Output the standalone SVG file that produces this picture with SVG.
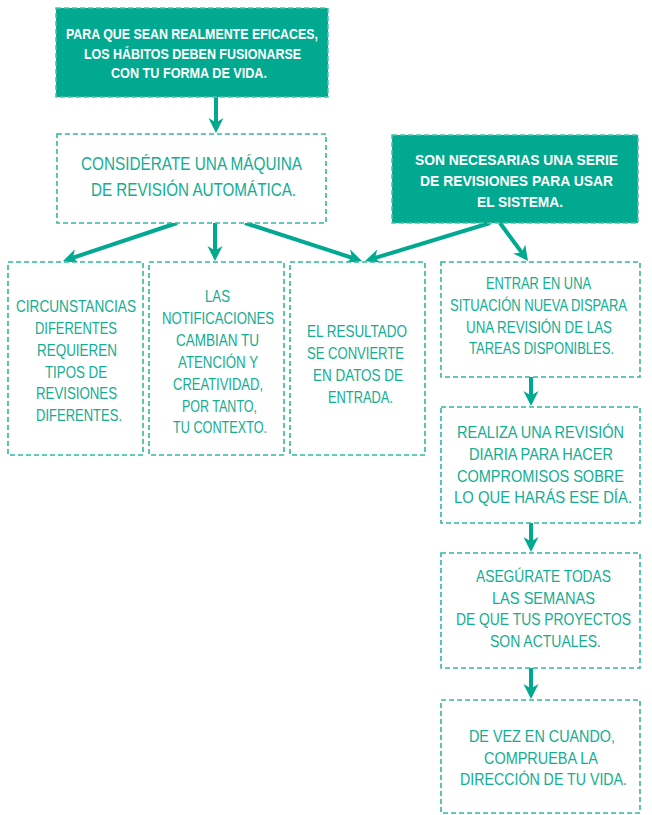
<svg xmlns="http://www.w3.org/2000/svg" width="652" height="815" viewBox="0 0 652 815">
<defs>
<style>
.fill{fill:#00a98f;stroke:#4cc4aa;stroke-width:1.5;stroke-dasharray:5 3}
.out{fill:#ffffff;stroke:#2fb99d;stroke-width:1.6;stroke-dasharray:5 3}
.wt{font-family:"Liberation Sans",Arial,sans-serif;font-weight:bold;fill:#ffffff;text-anchor:middle}
.tt{font-family:"Liberation Sans",Arial,sans-serif;fill:#12ad93;text-anchor:middle;font-size:17px}
.arr{stroke:#00a98f;stroke-width:4;fill:none;marker-end:url(#ah)}
</style>
<marker id="ah" markerUnits="userSpaceOnUse" viewBox="-16 -9 17 18" refX="-8" refY="0" markerWidth="17" markerHeight="18" orient="auto">
<path d="M0,0 L-15,-7.5 L-10.5,0 L-15,7.5 Z" fill="#00a98f"/>
</marker>
</defs>
<rect width="652" height="815" fill="#ffffff"/>
<g id="connectors">
<line class="arr" x1="216" y1="97" x2="216" y2="125"/>
<line class="arr" x1="177" y1="223" x2="70.6" y2="258.5"/>
<line class="arr" x1="215" y1="223" x2="215" y2="253"/>
<line class="arr" x1="245" y1="223" x2="354.4" y2="258.5"/>
<line class="arr" x1="490" y1="223" x2="372.7" y2="258.7"/>
<line class="arr" x1="500" y1="223" x2="523.3" y2="254.6"/>
<line class="arr" x1="531" y1="377" x2="531" y2="398"/>
<line class="arr" x1="531" y1="523" x2="531" y2="544"/>
<line class="arr" x1="531" y1="668" x2="531" y2="691"/>
</g>
<g id="n1">
<rect class="fill" x="56" y="8" width="272" height="89"/>
<text class="wt" font-size="14"><tspan x="192" y="39" textLength="252" lengthAdjust="spacingAndGlyphs">PARA QUE SEAN REALMENTE EFICACES,</tspan></text>
<text class="wt" font-size="14"><tspan x="192.5" y="58.5" textLength="217" lengthAdjust="spacingAndGlyphs">LOS HÁBITOS DEBEN FUSIONARSE</tspan></text>
<text class="wt" font-size="14"><tspan x="189" y="77.5" textLength="156" lengthAdjust="spacingAndGlyphs">CON TU FORMA DE VIDA.</tspan></text>
</g>
<g id="n2">
<rect class="out" x="57" y="134" width="269" height="89"/>
<text class="tt" font-size="18" style="font-size:18px"><tspan x="191.5" y="170" textLength="221" lengthAdjust="spacingAndGlyphs">CONSIDÉRATE UNA MÁQUINA</tspan></text>
<text class="tt" style="font-size:18px"><tspan x="193.5" y="196" textLength="205" lengthAdjust="spacingAndGlyphs">DE REVISIÓN AUTOMÁTICA.</tspan></text>
</g>
<g id="n3">
<rect class="fill" x="392" y="135" width="246" height="88"/>
<text class="wt" font-size="15"><tspan x="516.5" y="165" textLength="203" lengthAdjust="spacingAndGlyphs">SON NECESARIAS UNA SERIE</tspan></text>
<text class="wt" font-size="15"><tspan x="516.5" y="186" textLength="193" lengthAdjust="spacingAndGlyphs">DE REVISIONES PARA USAR</tspan></text>
<text class="wt" font-size="15"><tspan x="520" y="207" textLength="86" lengthAdjust="spacingAndGlyphs">EL SISTEMA.</tspan></text>
</g>
<g id="n4">
<rect class="out" x="8" y="262" width="135" height="193"/>
<text class="tt"><tspan x="76" y="312" textLength="120" lengthAdjust="spacingAndGlyphs">CIRCUNSTANCIAS</tspan></text>
<text class="tt"><tspan x="76" y="333.5" textLength="82" lengthAdjust="spacingAndGlyphs">DIFERENTES</tspan></text>
<text class="tt"><tspan x="77" y="355.5" textLength="80" lengthAdjust="spacingAndGlyphs">REQUIEREN</tspan></text>
<text class="tt"><tspan x="76" y="377.5" textLength="62" lengthAdjust="spacingAndGlyphs">TIPOS DE</tspan></text>
<text class="tt"><tspan x="76.5" y="399" textLength="81" lengthAdjust="spacingAndGlyphs">REVISIONES</tspan></text>
<text class="tt"><tspan x="79" y="420.5" textLength="86" lengthAdjust="spacingAndGlyphs">DIFERENTES.</tspan></text>
</g>
<g id="n5">
<rect class="out" x="149" y="262" width="135" height="193"/>
<text class="tt"><tspan x="217.5" y="302" textLength="25" lengthAdjust="spacingAndGlyphs">LAS</tspan></text>
<text class="tt"><tspan x="218" y="324" textLength="112" lengthAdjust="spacingAndGlyphs">NOTIFICACIONES</tspan></text>
<text class="tt"><tspan x="217.5" y="346" textLength="83" lengthAdjust="spacingAndGlyphs">CAMBIAN TU</tspan></text>
<text class="tt"><tspan x="218" y="368" textLength="80" lengthAdjust="spacingAndGlyphs">ATENCIÓN Y</tspan></text>
<text class="tt"><tspan x="218" y="389.5" textLength="90" lengthAdjust="spacingAndGlyphs">CREATIVIDAD,</tspan></text>
<text class="tt"><tspan x="219.5" y="411.5" textLength="75" lengthAdjust="spacingAndGlyphs">POR TANTO,</tspan></text>
<text class="tt"><tspan x="220" y="433" textLength="94" lengthAdjust="spacingAndGlyphs">TU CONTEXTO.</tspan></text>
</g>
<g id="n6">
<rect class="out" x="290" y="262" width="135" height="193"/>
<text class="tt"><tspan x="357" y="337" textLength="100" lengthAdjust="spacingAndGlyphs">EL RESULTADO</tspan></text>
<text class="tt"><tspan x="355.5" y="359" textLength="97" lengthAdjust="spacingAndGlyphs">SE CONVIERTE</tspan></text>
<text class="tt"><tspan x="358" y="381" textLength="90" lengthAdjust="spacingAndGlyphs">EN DATOS DE</tspan></text>
<text class="tt"><tspan x="360.5" y="403" textLength="65" lengthAdjust="spacingAndGlyphs">ENTRADA.</tspan></text>
</g>
<g id="n7">
<rect class="out" x="441" y="262" width="199" height="115"/>
<text class="tt"><tspan x="538.5" y="289" textLength="105" lengthAdjust="spacingAndGlyphs">ENTRAR EN UNA</tspan></text>
<text class="tt"><tspan x="538.5" y="310.5" textLength="177" lengthAdjust="spacingAndGlyphs">SITUACIÓN NUEVA DISPARA</tspan></text>
<text class="tt"><tspan x="539" y="332.5" textLength="146" lengthAdjust="spacingAndGlyphs">UNA REVISIÓN DE LAS</tspan></text>
<text class="tt"><tspan x="541.5" y="354" textLength="145" lengthAdjust="spacingAndGlyphs">TAREAS DISPONIBLES.</tspan></text>
</g>
<g id="n8">
<rect class="out" x="441" y="407" width="199" height="116"/>
<text class="tt"><tspan x="540.5" y="438" textLength="167" lengthAdjust="spacingAndGlyphs">REALIZA UNA REVISIÓN</tspan></text>
<text class="tt"><tspan x="541" y="460" textLength="144" lengthAdjust="spacingAndGlyphs">DIARIA PARA HACER</tspan></text>
<text class="tt"><tspan x="540.5" y="482" textLength="167" lengthAdjust="spacingAndGlyphs">COMPROMISOS SOBRE</tspan></text>
<text class="tt"><tspan x="543" y="503" textLength="178" lengthAdjust="spacingAndGlyphs">LO QUE HARÁS ESE DÍA.</tspan></text>
</g>
<g id="n9">
<rect class="out" x="441" y="553" width="199" height="115"/>
<text class="tt"><tspan x="543.5" y="582" textLength="135" lengthAdjust="spacingAndGlyphs">ASEGÚRATE TODAS</tspan></text>
<text class="tt"><tspan x="543.5" y="603.5" textLength="103" lengthAdjust="spacingAndGlyphs">LAS SEMANAS</tspan></text>
<text class="tt"><tspan x="543.5" y="625" textLength="175" lengthAdjust="spacingAndGlyphs">DE QUE TUS PROYECTOS</tspan></text>
<text class="tt"><tspan x="545.5" y="647" textLength="111" lengthAdjust="spacingAndGlyphs">SON ACTUALES.</tspan></text>
</g>
<g id="n10">
<rect class="out" x="441" y="700" width="199" height="113"/>
<text class="tt"><tspan x="542" y="742" textLength="146" lengthAdjust="spacingAndGlyphs">DE VEZ EN CUANDO,</tspan></text>
<text class="tt"><tspan x="541" y="763.5" textLength="114" lengthAdjust="spacingAndGlyphs">COMPRUEBA LA</tspan></text>
<text class="tt"><tspan x="543.5" y="785" textLength="167" lengthAdjust="spacingAndGlyphs">DIRECCIÓN DE TU VIDA.</tspan></text>
</g>
</svg>
